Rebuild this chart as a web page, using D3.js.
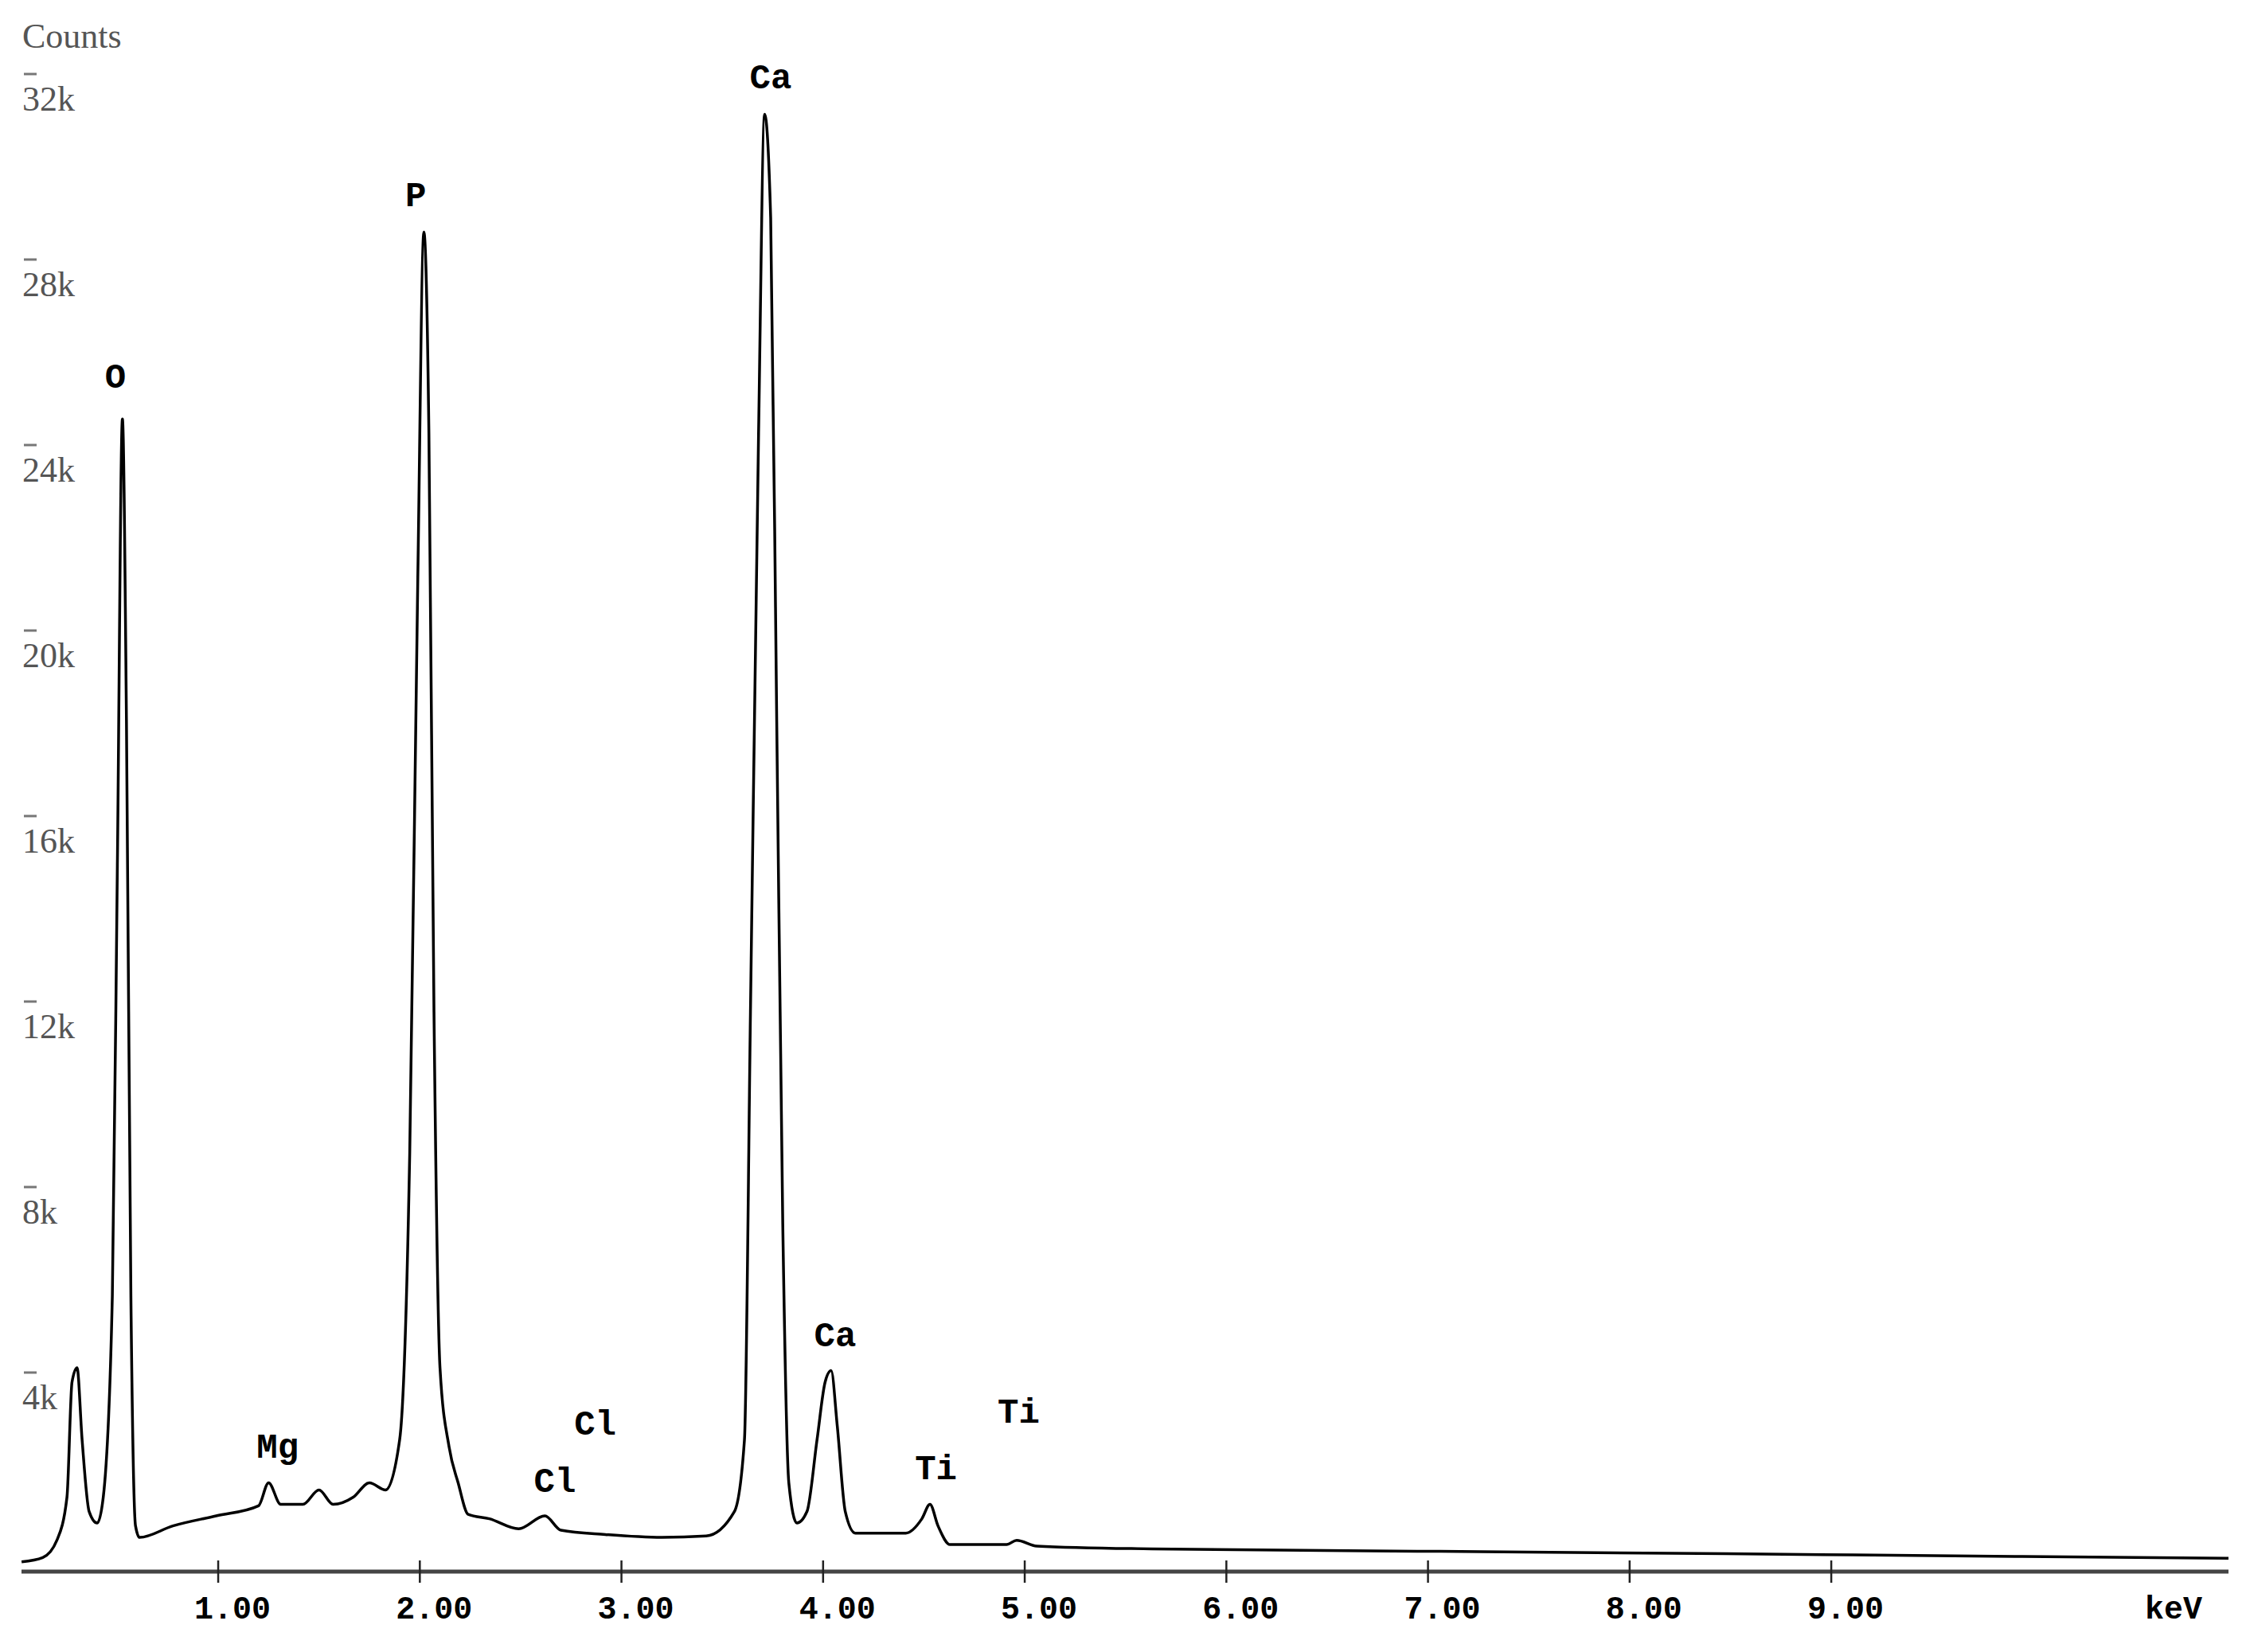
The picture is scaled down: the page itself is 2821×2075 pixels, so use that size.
<!DOCTYPE html>
<html><head><meta charset="utf-8">
<script src="https://cdn.jsdelivr.net/npm/d3@7"></script>
<style>body{margin:0;background:#fff}</style></head>
<body><svg id="c" width="2821" height="2075"></svg>
<script>
// spectrum
var kev = [0.025,0.13,0.20,0.25,0.275,0.30,0.325,0.36,0.40,0.43,0.475,0.50,0.525,0.545,0.567,0.59,0.61,0.775,0.99,1.20,1.25,1.31,1.42,1.50,1.57,1.67,1.75,1.83,1.90,1.95,1.99,2.02,2.045,2.07,2.10,2.145,2.19,2.24,2.345,2.49,2.62,2.70,2.92,3.20,3.42,3.56,3.61,3.64,3.68,3.71,3.74,3.77,3.80,3.83,3.87,3.92,3.97,4.01,4.04,4.07,4.11,4.16,4.41,4.49,4.53,4.57,4.63,4.91,4.96,5.06,5.63,7.06,8.48,9.91,10.97];
var counts = [124,217,589,1519,4000,4309,2759,1209,961,1519,5859,15159,24769,18259,5859,899,651,899,1116,1333,1829,1364,1364,1674,1364,1519,1829,1674,2759,8959,21359,28799,24459,12059,4309,2604,1829,1147,1054,837,1116,806,713,651,682,1209,2759,12059,24459,31341,29109,18259,7409,1829,961,1209,2759,4000,4247,3069,1209,744,744,1054,1364,899,496,496,589,465,403,350,300,240,200];
var xTicks = [1,2,3,4,5,6,7,8,9];
var yTicks = [4000,8000,12000,16000,20000,24000,28000,32000];
var peakNames = ["O","P","Ca","Mg","Cl","Cl","Ca","Ti","Ti"];
var peakKev = [0.49,1.98,3.74,1.295,2.67,2.87,4.06,4.56,4.97];
var peakY = [25450,29350,31890,2377,1633,2873,4764,1912,3121];

var svg = d3.select("#c");
var x = d3.scaleLinear().domain([0, 10.97]).range([20.8, 2799]);
var y = d3.scaleLinear().domain([0, 32000]).range([1969, 105]);
var axisY = 1974;

// x axis
svg.append("line").attr("x1", 27).attr("x2", 2799).attr("y1", axisY).attr("y2", axisY)
   .attr("stroke", "#444").attr("stroke-width", 5);
svg.selectAll(".xt").data(xTicks).enter().append("line")
   .attr("x1", d => x(d)).attr("x2", d => x(d)).attr("y1", axisY - 14).attr("y2", axisY + 14)
   .attr("stroke", "#222").attr("stroke-width", 2.5);
svg.selectAll(".xl").data(xTicks).enter().append("text")
   .attr("x", d => x(d) + 18).attr("y", 2033).attr("text-anchor", "middle")
   .attr("font-family", "Liberation Mono").attr("font-weight", "bold").attr("font-size", 40)
   .text(d => d.toFixed(2));
svg.append("text").attr("x", 2730).attr("y", 2033).attr("text-anchor", "middle")
   .attr("font-family", "Liberation Mono").attr("font-weight", "bold").attr("font-size", 40).text("keV");

// y labels with little overbars
svg.append("text").attr("x", 28).attr("y", 60).attr("fill", "#555")
   .attr("font-family", "Liberation Serif").attr("font-size", 44).text("Counts");
var yl = svg.selectAll(".yl").data(yTicks).enter().append("g");
yl.append("line").attr("x1", 30).attr("x2", 46).attr("y1", d => y(d) - 12).attr("y2", d => y(d) - 12)
  .attr("stroke", "#777").attr("stroke-width", 3);
yl.append("text").attr("x", 28).attr("y", d => y(d) + 34).attr("fill", "#555")
  .attr("font-family", "Liberation Serif").attr("font-size", 44).text(d => (d / 1000) + "k");

// spectrum trace
var pts = kev.map((k, i) => [k, counts[i]]);
svg.append("path").datum(pts)
   .attr("d", d3.line().x(d => x(d[0])).y(d => y(d[1])).curve(d3.curveMonotoneX))
   .attr("fill", "none").attr("stroke", "#000").attr("stroke-width", 3.5);

// element labels
svg.selectAll(".pk").data(peakNames).enter().append("text")
   .attr("x", (d, i) => x(peakKev[i])).attr("y", (d, i) => y(peakY[i])).attr("text-anchor", "middle")
   .attr("font-family", "Liberation Mono").attr("font-weight", "bold").attr("font-size", 44)
   .text(d => d);
</script></body></html>
